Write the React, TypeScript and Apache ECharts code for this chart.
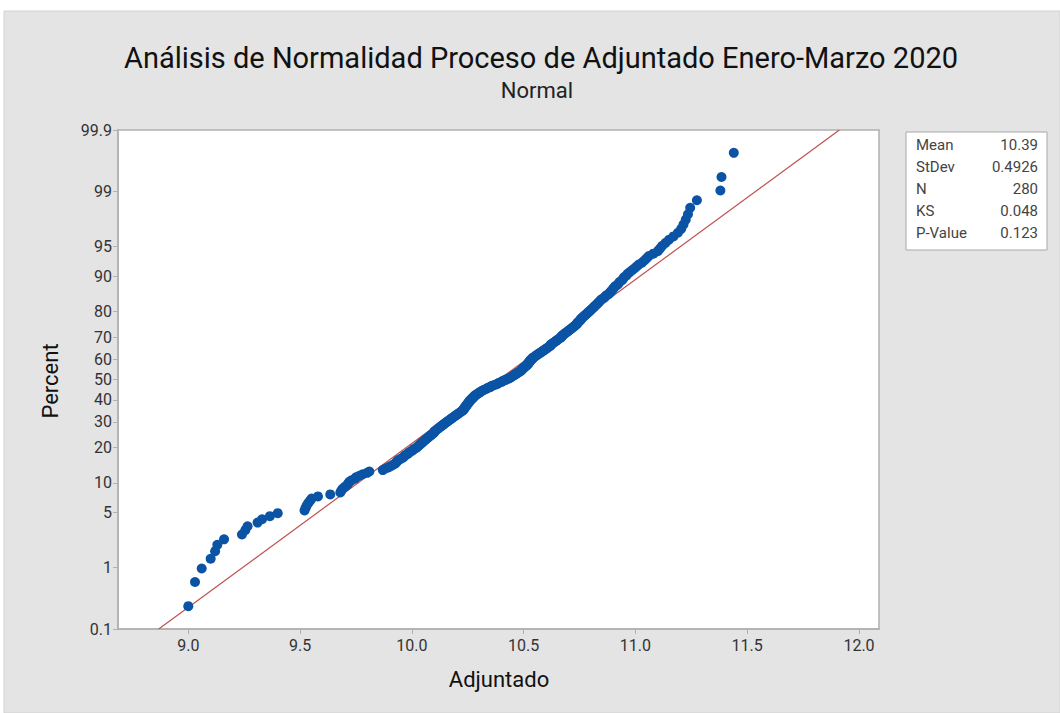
import React, { useEffect, useRef } from "react";
import * as echarts from "echarts";

const adjuntado: number[] = [
  9.0, 9.03, 9.06, 9.1, 9.12, 9.13, 9.16, 9.24, 9.255, 9.265,
  9.31, 9.33, 9.365, 9.4, 9.52, 9.525, 9.53, 9.537, 9.545, 9.552,
  9.58, 9.635, 9.68, 9.685, 9.69, 9.7, 9.71, 9.715, 9.72, 9.73,
  9.745, 9.75, 9.765, 9.78, 9.8, 9.81, 9.87, 9.88, 9.895, 9.905,
  9.915, 9.925, 9.93, 9.935, 9.94, 9.95, 9.96, 9.965, 9.97, 9.98,
  9.985, 9.99, 10.0, 10.005, 10.01, 10.02, 10.025, 10.03, 10.035, 10.04,
  10.045, 10.05, 10.055, 10.06, 10.065, 10.07, 10.075, 10.08, 10.085, 10.09,
  10.095, 10.1, 10.1, 10.105, 10.11, 10.115, 10.12, 10.125, 10.13, 10.135,
  10.14, 10.145, 10.15, 10.155, 10.16, 10.165, 10.17, 10.175, 10.18, 10.185,
  10.19, 10.195, 10.2, 10.205, 10.21, 10.215, 10.22, 10.225, 10.23, 10.23,
  10.235, 10.235, 10.24, 10.24, 10.245, 10.245, 10.25, 10.25, 10.255, 10.255,
  10.26, 10.26, 10.265, 10.27, 10.27, 10.275, 10.28, 10.28, 10.285, 10.29,
  10.295, 10.3, 10.305, 10.31, 10.315, 10.32, 10.33, 10.335, 10.34, 10.35,
  10.355, 10.36, 10.37, 10.38, 10.385, 10.39, 10.4, 10.405, 10.41, 10.42,
  10.425, 10.435, 10.44, 10.445, 10.45, 10.455, 10.46, 10.465, 10.47, 10.475,
  10.48, 10.485, 10.49, 10.49, 10.495, 10.5, 10.5, 10.505, 10.51, 10.515,
  10.515, 10.52, 10.52, 10.525, 10.525, 10.53, 10.53, 10.535, 10.54, 10.54,
  10.545, 10.55, 10.555, 10.56, 10.565, 10.57, 10.575, 10.58, 10.585, 10.59,
  10.595, 10.6, 10.605, 10.61, 10.615, 10.62, 10.62, 10.625, 10.63, 10.635,
  10.64, 10.645, 10.65, 10.655, 10.66, 10.665, 10.67, 10.67, 10.675, 10.68,
  10.685, 10.69, 10.695, 10.7, 10.705, 10.71, 10.715, 10.72, 10.725, 10.73,
  10.735, 10.74, 10.74, 10.745, 10.75, 10.755, 10.755, 10.76, 10.765, 10.77,
  10.775, 10.78, 10.785, 10.79, 10.795, 10.8, 10.805, 10.81, 10.815, 10.82,
  10.825, 10.83, 10.835, 10.84, 10.845, 10.85, 10.86, 10.865, 10.87, 10.88,
  10.885, 10.89, 10.895, 10.9, 10.905, 10.91, 10.92, 10.925, 10.93, 10.94,
  10.945, 10.95, 10.96, 10.965, 10.975, 10.985, 10.995, 11.005, 11.015, 11.03,
  11.04, 11.05, 11.06, 11.08, 11.1, 11.11, 11.12, 11.135, 11.15, 11.17,
  11.19, 11.205, 11.215, 11.225, 11.235, 11.245, 11.275, 11.38, 11.385, 11.44,
];

const percentTicks: number[] = [0.1, 1, 5, 10, 20, 30, 40, 50, 60, 70, 80, 90, 95, 99, 99.9];
const xTicks: number[] = [9.0, 9.5, 10.0, 10.5, 11.0, 11.5, 12.0];

const statLabels: string[] = ["Mean", "StDev", "N", "KS", "P-Value"];
const statValues: string[] = ["10.39", "0.4926", "280", "0.048", "0.123"];
const fitMean = 10.39;
const fitStDev = 0.4926;

const titleText = "Análisis de Normalidad Proceso de Adjuntado Enero-Marzo 2020";
const subtitleText = "Normal";

// inverse standard normal CDF (Acklam)
function normInv(p: number): number {
  const a = [-39.69683028665376, 220.9460984245205, -275.9285104469687, 138.357751867269, -30.66479806614716, 2.506628277459239];
  const b = [-54.47609879822406, 161.5858368580409, -155.6989798598866, 66.80131188771972, -13.28068155288572];
  const c = [-0.007784894002430293, -0.3223964580411365, -2.400758277161838, -2.549732539343734, 4.374664141464968, 2.938163982698783];
  const d = [0.007784695709041462, 0.3224671290700398, 2.445134137142996, 3.754408661907416];
  const pl = 0.02425;
  let q: number, r: number;
  if (p < pl) {
    q = Math.sqrt(-2 * Math.log(p));
    return (((((c[0] * q + c[1]) * q + c[2]) * q + c[3]) * q + c[4]) * q + c[5]) / ((((d[0] * q + d[1]) * q + d[2]) * q + d[3]) * q + 1);
  }
  if (p > 1 - pl) {
    q = Math.sqrt(-2 * Math.log(1 - p));
    return -(((((c[0] * q + c[1]) * q + c[2]) * q + c[3]) * q + c[4]) * q + c[5]) / ((((d[0] * q + d[1]) * q + d[2]) * q + d[3]) * q + 1);
  }
  q = p - 0.5;
  r = q * q;
  return ((((((a[0] * r + a[1]) * r + a[2]) * r + a[3]) * r + a[4]) * r + a[5]) * q) / (((((b[0] * r + b[1]) * r + b[2]) * r + b[3]) * r + b[4]) * r + 1);
}

export default function App() {
  const ref = useRef<HTMLDivElement>(null);
  useEffect(() => {
    if (!ref.current) return;
    const chart = echarts.init(ref.current, null, { renderer: "svg" });
    const n = adjuntado.length;
    // plotting positions (median ranks) on a normal-probability scale
    const pts = adjuntado.map((x, i) => [x, normInv((i + 1 - 0.3) / (n + 0.4))]);
    const zTicks = percentTicks.map((p) => normInv(p / 100));
    const zMin = zTicks[0];
    const zMax = zTicks[zTicks.length - 1];
    const fitLine = [
      [fitMean + zMin * fitStDev, zMin],
      [fitMean + zMax * fitStDev, zMax],
    ];
    const font = "Roboto, 'Liberation Sans', sans-serif";
    const boxX = 906, boxY = 132;
    const statTexts: any[] = [];
    statLabels.forEach((lab, i) => {
      statTexts.push({ type: "text", x: boxX + 10, y: boxY + 12.5 + i * 22.2, style: { text: lab, fontFamily: font, fontSize: 15, fill: "#444", textVerticalAlign: "middle" } });
      statTexts.push({ type: "text", x: 1038, y: boxY + 12.5 + i * 22.2, style: { text: statValues[i], fontFamily: font, fontSize: 15, fill: "#444", textAlign: "right", textVerticalAlign: "middle" } });
    });
    chart.setOption({
      animation: false,
      backgroundColor: "#ffffff",
      graphic: [
        { type: "rect", z: -10, shape: { x: 4, y: 11, width: 1056, height: 702 }, style: { fill: "#e4e4e4", stroke: "#d2d2d2", lineWidth: 1 } },
        { type: "text", x: 541, y: 58, style: { text: titleText, fontFamily: font, fontSize: 29, fill: "#111", textAlign: "center", textVerticalAlign: "middle" } },
        { type: "text", x: 537, y: 90, style: { text: subtitleText, fontFamily: font, fontSize: 22, fill: "#222", textAlign: "center", textVerticalAlign: "middle" } },
        { type: "text", x: 50, y: 381, rotation: Math.PI / 2, style: { text: "Percent", fontFamily: font, fontSize: 22, fill: "#111", textAlign: "center", textVerticalAlign: "middle" } },
        { type: "text", x: 499, y: 679, style: { text: "Adjuntado", fontFamily: font, fontSize: 22, fill: "#111", textAlign: "center", textVerticalAlign: "middle" } },
        { type: "rect", shape: { x: boxX, y: boxY, width: 141, height: 118 }, style: { fill: "#fff", stroke: "#a8a8a8", lineWidth: 1 } },
        ...statTexts,
      ],
      grid: { left: 118, right: 181, top: 130, bottom: 84, show: true, backgroundColor: "#fff", borderColor: "#b0b0b0", borderWidth: 1.5 },
      xAxis: {
        type: "value",
        min: 8.6856,
        max: 12.0895,
        axisLine: { show: true, onZero: false, lineStyle: { color: "#b0b0b0", width: 1.5 } },
        axisTick: { show: true, length: 5, lineStyle: { color: "#b0b0b0" }, customValues: xTicks },
        axisLabel: { customValues: xTicks, formatter: (v: number) => v.toFixed(1), fontFamily: font, fontSize: 16, color: "#333", margin: 8 },
        splitLine: { show: false },
      },
      yAxis: {
        type: "value",
        min: zMin,
        max: zMax,
        axisLine: { show: true, onZero: false, lineStyle: { color: "#b0b0b0", width: 1.5 } },
        axisTick: { show: true, length: 5, lineStyle: { color: "#b0b0b0" }, customValues: zTicks },
        axisLabel: {
          customValues: zTicks,
          showMinLabel: true,
          showMaxLabel: true,
          formatter: (v: number) => {
            let best = 0;
            zTicks.forEach((z, i) => { if (Math.abs(z - v) < Math.abs(zTicks[best] - v)) best = i; });
            return String(percentTicks[best]);
          },
          fontFamily: font, fontSize: 16, color: "#333", margin: 6,
        },
        splitLine: { show: false },
      },
      series: [
        {
          type: "line",
          data: fitLine,
          symbol: "none",
          lineStyle: { color: "#c0504d", width: 1.2 },
          silent: true,
          z: 1,
        },
        {
          type: "scatter",
          data: pts,
          symbol: "circle",
          symbolSize: 10,
          itemStyle: { color: "#0b54a5", opacity: 1 },
          z: 2,
        },
      ],
    });
    return () => chart.dispose();
  }, []);
  return (
    <div style={{ position: "fixed", left: 0, top: 0, width: 1060, height: 713 }}>
      <div ref={ref} style={{ width: 1060, height: 713 }} />
    </div>
  );
}
